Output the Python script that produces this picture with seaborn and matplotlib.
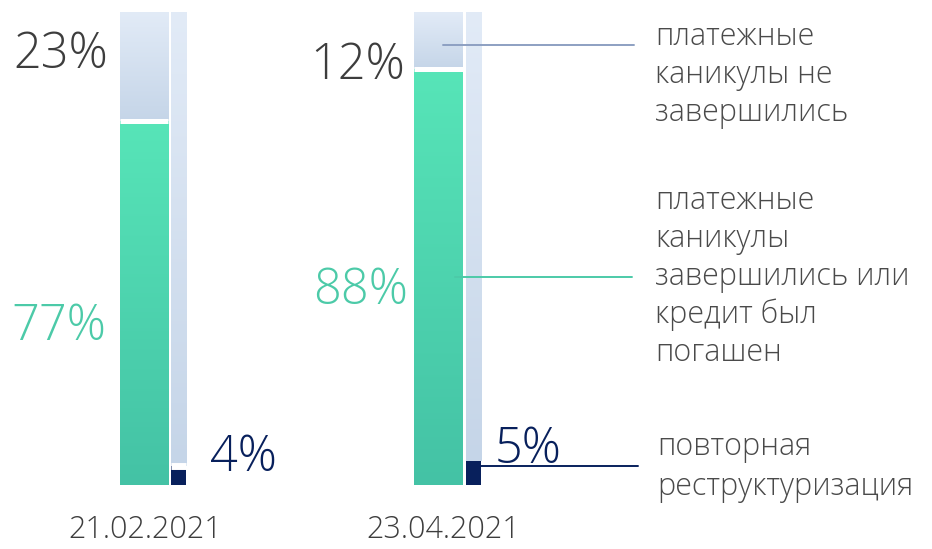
import numpy as np
import pandas as pd
import matplotlib
matplotlib.use("Agg")
import matplotlib.pyplot as plt
from matplotlib.colors import LinearSegmentedColormap
from matplotlib.lines import Line2D
import seaborn as sns

# Shares of borrowers, %
dates = ["21.02.2021", "23.04.2021"]
ended = [77, 88]          # каникулы завершились или кредит погашен
ongoing = [23, 12]        # каникулы не завершились
restructured = [4, 5]     # повторная реструктуризация
full_scale = [100, 100]

legend_labels = [
    "платежные\nканикулы не\nзавершились",
    "платежные\nканикулы\nзавершились или\nкредит был\nпогашен",
    "повторная\nреструктуризация",
]

GREEN_TOP, GREEN_BOTTOM = "#57e5b8", "#44c2a5"
BLUE_TOP, BLUE_BOTTOM = "#e2ebf7", "#c5d5e8"
NAVY = "#08205c"
GREY_TEXT = "#3d3d3d"
GREEN_TEXT = "#4ccaa8"

sns.set_theme(style="white")
plt.rcParams["font.family"] = ["Open Sans", "DejaVu Sans"]
plt.rcParams["font.weight"] = "light"

W, H = 932, 549
fig = plt.figure(figsize=(W / 100, H / 100), dpi=100)
ax = fig.add_axes([0, (H - 485) / H, 1, 473 / H])


def fx(px):
    return px / W


def fy(py):
    return 1 - py / H


group_x = np.arange(len(dates), dtype=float)
wide = pd.DataFrame({"x": group_x, "ended": ended, "ongoing": ongoing})
narrow = pd.DataFrame({
    "x": group_x + 0.118,
    "restructured": restructured,
    "rest": np.subtract(full_scale, restructured),
})
WIDE_W, NARROW_W = 0.163, 0.051


def layer(df, col, width, bottom=None):
    start = len(ax.patches)
    kw = {} if bottom is None else {"bottom": list(bottom)}
    sns.barplot(data=df, x="x", y=col, native_scale=True, width=width,
                color="#cccccc", errorbar=None, linewidth=0, ax=ax, **kw)
    return ax.patches[start:]


def paint_gradient(patch, top, bottom):
    x0, y0 = patch.get_x(), patch.get_y()
    w, h = patch.get_width(), patch.get_height()
    cmap = LinearSegmentedColormap.from_list("bar", [bottom, top])
    grad = np.linspace(0, 1, 256).reshape(-1, 1)
    im = ax.imshow(grad, extent=[x0, x0 + w, y0, y0 + h], origin="lower",
                   aspect="auto", cmap=cmap, zorder=patch.get_zorder(),
                   interpolation="bilinear")
    im.set_clip_path(patch)
    patch.set_facecolor("none")


green_bars = layer(wide, "ended", WIDE_W)
cap_bars = layer(wide, "ongoing", WIDE_W, bottom=ended)
navy_bars = layer(narrow, "restructured", NARROW_W)
thin_bars = layer(narrow, "rest", NARROW_W, bottom=restructured)

for p in green_bars:
    paint_gradient(p, GREEN_TOP, GREEN_BOTTOM)
for p in cap_bars:
    paint_gradient(p, BLUE_TOP, BLUE_BOTTOM)
for p in thin_bars:
    paint_gradient(p, BLUE_TOP, BLUE_BOTTOM)
for p in navy_bars:
    p.set_facecolor(NAVY)

# white separators between stacked segments
for p in cap_bars:
    ax.hlines(p.get_y(), p.get_x(), p.get_x() + p.get_width(),
              color="white", lw=3.6, zorder=5)
narrow_separator = [True, False]
for p, sep in zip(thin_bars, narrow_separator):
    if sep:
        ax.hlines(p.get_y(), p.get_x(), p.get_x() + p.get_width(),
                  color="white", lw=5, zorder=5)

ax.set_xlim(-144 / 294.5, (W - 144) / 294.5)
ax.set_ylim(0, 100)
ax.set_axis_off()

# value labels
pct_size = 35
fig.text(fx(108), fy(68), f"{ongoing[0]}%", ha="right", va="baseline",
         fontsize=pct_size, color=GREY_TEXT)
fig.text(fx(106), fy(340), f"{ended[0]}%", ha="right", va="baseline",
         fontsize=pct_size, color=GREEN_TEXT)
fig.text(fx(210), fy(471), f"{restructured[0]}%", ha="left", va="baseline",
         fontsize=pct_size, color=NAVY)
fig.text(fx(405), fy(79), f"{ongoing[1]}%", ha="right", va="baseline",
         fontsize=pct_size, color=GREY_TEXT)
fig.text(fx(408), fy(304), f"{ended[1]}%", ha="right", va="baseline",
         fontsize=pct_size, color=GREEN_TEXT)
fig.text(fx(495), fy(463), f"{restructured[1]}%", ha="left", va="baseline",
         fontsize=pct_size, color=NAVY)

# dates under the groups
for cx, d in zip([145, 443], dates):
    fig.text(fx(cx), fy(538), d, ha="center", va="baseline",
             fontsize=22, color=GREY_TEXT)

# legend-style labels with leader lines
label_pos = [(655, 45, 38), (655, 209, 38), (657, 455, 40)]
for text, (lx, base, step) in zip(legend_labels, label_pos):
    for i, line in enumerate(text.split("\n")):
        fig.text(fx(lx), fy(base + i * step), line, ha="left", va="baseline",
                 fontsize=22, color="#4a4a4a")

leaders = [((443, 634), 45, "#8da0c2"), ((455, 632), 277, GREEN_TEXT),
           ((480, 638), 466, NAVY)]
for (x0, x1), y, c in leaders:
    fig.add_artist(Line2D([fx(x0), fx(x1)], [fy(y), fy(y)], color=c, lw=1.4))

fig.savefig("out.png", dpi=100, facecolor="white")
